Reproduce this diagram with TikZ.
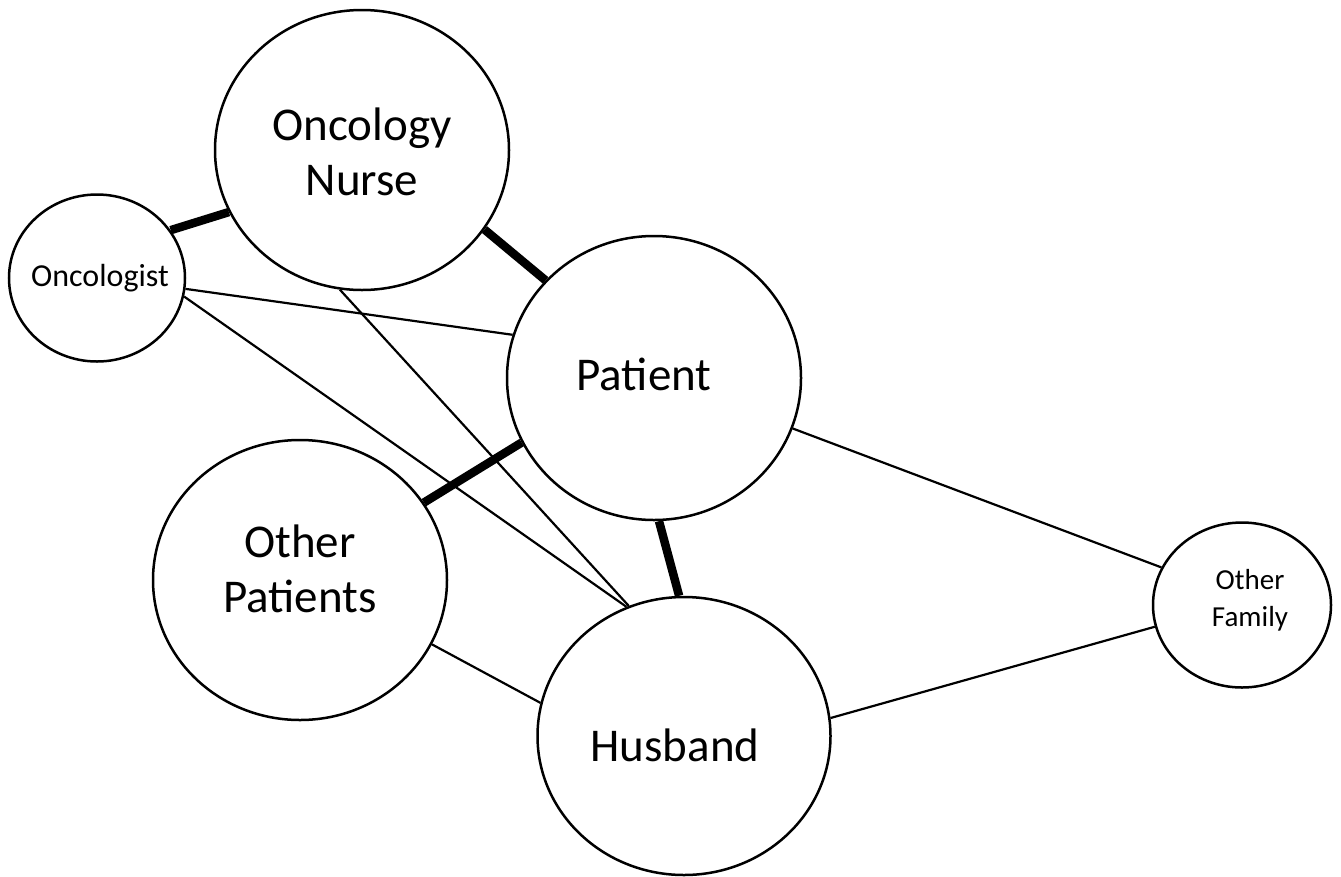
\documentclass[tikz,border=0pt]{standalone}
\usepackage{fontspec}
\setmainfont{Carlito}
\usetikzlibrary{shapes.geometric}
\begin{document}
\begin{tikzpicture}[x=1pt,y=-1pt,
  bubble/.style={draw,ellipse,line width=2.5pt,inner sep=0pt},
  bigtext/.style={font=\fontsize{47}{55}\selectfont,align=center,inner sep=0pt},
  midtext/.style={font=\fontsize{32}{37}\selectfont,align=center,inner sep=0pt},
  smalltext/.style={font=\fontsize{29}{37}\selectfont,align=center,inner sep=0pt},
  weak/.style={line width=2.2pt},
  strong/.style={line width=8.5pt}]
\useasboundingbox (0,0) rectangle (1341,876);
\node[bubble,minimum width=294pt,minimum height=280pt] (nurse) at (362,150) {};
\node[bubble,minimum width=176pt,minimum height=167pt] (oncologist) at (97,278) {};
\node[bubble,minimum width=294pt,minimum height=284pt] (patient) at (654,378) {};
\node[bubble,minimum width=294pt,minimum height=280pt] (others) at (300,580) {};
\node[bubble,minimum width=293pt,minimum height=278pt] (husband) at (684,736) {};
\node[bubble,minimum width=178pt,minimum height=165pt] (family) at (1242,605) {};
\node[bigtext] (nurse-t) at (362,152) {Oncology\\Nurse};
\node[midtext] (oncologist-t) at (100,278) {Oncologist};
\node[bigtext] (patient-t) at (644,374) {Patient};
\node[bigtext] (others-t) at (300,569) {Other\\Patients};
\node[bigtext] (husband-t) at (675,745) {Husband};
\node[smalltext] (family-t) at (1250,600) {Other\\Family};
\draw[strong] (oncologist.33.9) -- (nurse.205.2);
\draw[strong] (nurse.-33.9) -- (patient.138.3);
\draw[strong] (patient.206.9) -- (others.32.8);
\draw[strong] (patient.272.4) -- (husband.92);
\draw[weak] (oncologist.-7.5) -- (patient.163.1);
\draw[weak] (oncologist.-12.1) -- (husband.114.2);
\draw[weak] (nurse.261.1) -- (husband.113);
\draw[weak] (patient.-20.7) -- (family.155);
\draw[weak] (others.-26.2) -- (husband.167.5);
\draw[weak] (husband.7.4) -- (family.194.5);
\end{tikzpicture}
\end{document}
